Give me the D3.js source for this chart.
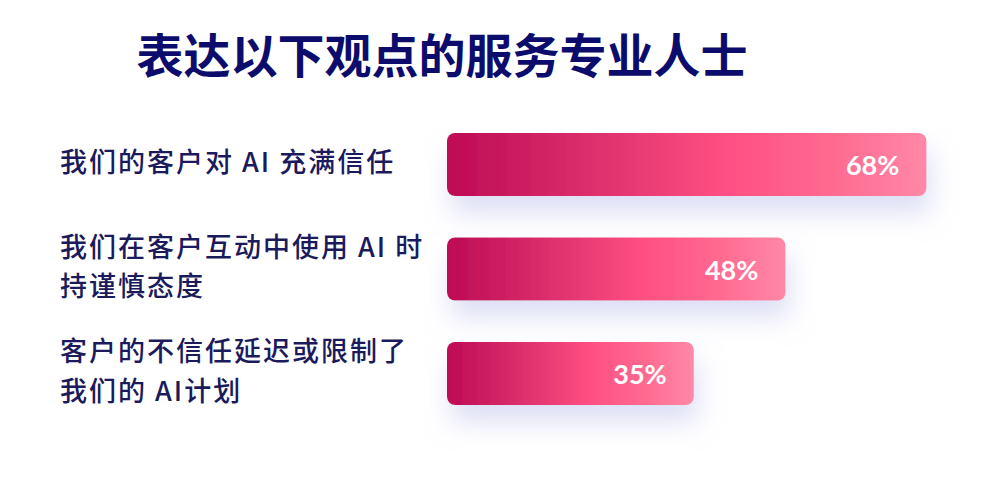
<!DOCTYPE html>
<html>
<head>
<meta charset="utf-8">
<script src="https://cdn.jsdelivr.net/npm/d3@7"></script>
<style>
  body { margin: 0; background: #fff; }
  svg { display: block; }
</style>
</head>
<body>
<svg id="chart"></svg>
<script>
const title = '表达以下观点的服务专业人士';
const categories = ['trust', 'cautious', 'distrust'];
const labelLines = [
  ['我们的客户对 AI 充满信任'],
  ['我们在客户互动中使用 AI 时', '持谨慎态度'],
  ['客户的不信任延迟或限制了', '我们的 AI计划']
];
const values = [68, 48, 35];

const W = 1000, H = 480;
const svg = d3.select('#chart').attr('width', W).attr('height', H);

const defs = svg.append('defs');

const grad = defs.append('linearGradient')
.attr('id', 'barGrad')
.attr('x1', '0%').attr('x2', '100%').attr('y1', '0%').attr('y2', '0%');
[
  ['0%', '#bd0a55'],
  ['30%', '#dc2f6c'],
  ['58%', '#ff4f82'],
  ['80%', '#ff6990'],
  ['100%', '#ff88a7']
].forEach(s => grad.append('stop').attr('offset', s[0]).attr('stop-color', s[1]));

// soft lavender shadow under each bar
const shadow = defs.append('filter')
.attr('id', 'shadow')
.attr('x', '-20%').attr('y', '-40%').attr('width', '140%').attr('height', '220%');
shadow.append('feGaussianBlur').attr('in', 'SourceAlpha').attr('stdDeviation', 13).attr('result', 'blur');
shadow.append('feOffset').attr('in', 'blur').attr('dx', 4).attr('dy', 17).attr('result', 'off');
shadow.append('feFlood').attr('flood-color', '#c6c9ee').attr('flood-opacity', 0.6);
shadow.append('feComposite').attr('in2', 'off').attr('operator', 'in').attr('result', 'sh');
const merge = shadow.append('feMerge');
merge.append('feMergeNode').attr('in', 'sh');
merge.append('feMergeNode').attr('in', 'SourceGraphic');

svg.append('text')
.attr('x', 442)
.attr('y', 52)
.attr('text-anchor', 'middle')
.attr('dominant-baseline', 'central')
.style('font-family', '"Noto Sans CJK SC", sans-serif')
.style('font-weight', 700)
.style('font-size', '47px')
.style('fill', '#0c0c6c')
.text(title);

const x = d3.scaleLinear()
.domain([0, 100])
.range([447, 447 + 705]);

const y = d3.scaleBand()
.domain(categories)
.range([133, 405])
.paddingInner(0.397)
.paddingOuter(0);

const rows = svg.selectAll('g.row')
.data(categories)
.enter()
.append('g')
.attr('class', 'row');

rows.append('rect')
.attr('x', x(0))
.attr('y', d => y(d))
.attr('width', (d, i) => x(values[i]) - x(0))
.attr('height', y.bandwidth())
.attr('rx', 8)
.attr('fill', 'url(#barGrad)')
.attr('filter', 'url(#shadow)');

rows.append('text')
.attr('x', (d, i) => x(values[i]) - 27)
.attr('y', d => y(d) + y.bandwidth() / 2)
.attr('text-anchor', 'end')
.attr('dominant-baseline', 'central')
.style('font-family', 'Lato, sans-serif')
.style('font-weight', 700)
.style('font-size', '27px')
.style('fill', '#fff')
.text((d, i) => values[i] + '%');

const lineH = 39.5;
rows.each(function(d, i) {
  const lines = labelLines[i];
  const cy = y(d) + y.bandwidth() / 2 - 4;
  const t = d3.select(this).append('text')
  .attr('class', 'lab')
  .style('font-family', '"Noto Sans CJK SC", sans-serif')
  .style('font-weight', 500)
  .style('font-size', '27px')
  .style('letter-spacing', '2px')
  .style('fill', '#1a1a5c');
  t.selectAll('tspan')
  .data(lines)
  .enter()
  .append('tspan')
  .attr('x', 60)
  .attr('y', (l, j) => cy + (j - (lines.length - 1) / 2) * lineH)
  .attr('dominant-baseline', 'central')
  .text(l => l);
});
</script>
</body>
</html>
